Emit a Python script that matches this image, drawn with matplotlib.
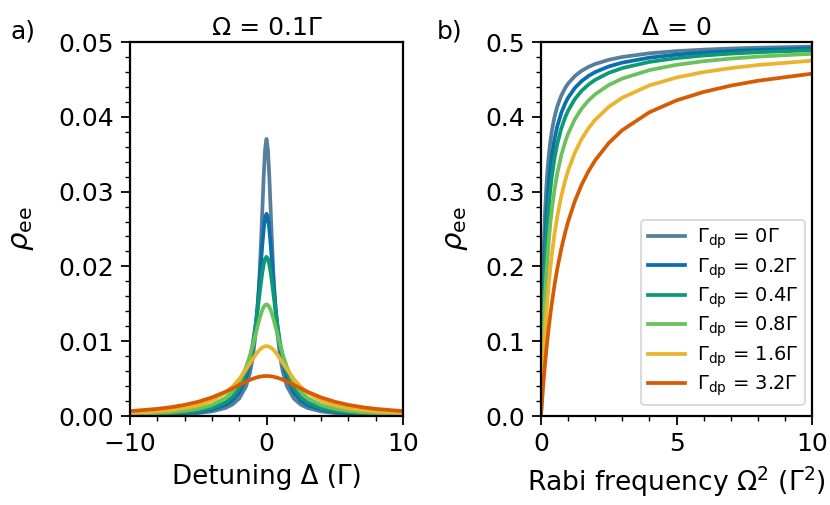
import numpy as np
import matplotlib
matplotlib.use("Agg")
import matplotlib.pyplot as plt
from matplotlib.ticker import AutoMinorLocator

plt.rcParams['font.family'] = ['DejaVu Sans']
plt.rcParams['mathtext.fontset'] = 'dejavusans'

# Dephasing rates (units of Gamma)
dephasing = ["0", "0.2", "0.4", "0.8", "1.6", "3.2"]
colors = ["#557f9a", "#0a6fae", "#0d9a73", "#6cc15f", "#e9b42e", "#d55c05"]

# Panel a: detuning (non-negative half; curves are symmetric)
detuning_half = [0, 0.1, 0.2, 0.3, 0.4, 0.5, 0.6, 0.7, 0.8, 1.0, 1.2, 1.5, 2, 2.5, 3, 4, 5, 6, 7, 8, 10]
rho_a_0 = [0.037037, 0.035714, 0.032258, 0.027778, 0.023256, 0.019231, 0.015873, 0.013158, 0.010989,
           0.007874, 0.005848, 0.003968, 0.002342, 0.001534, 0.001079, 0.000615, 0.000396, 0.000276,
           0.000203, 0.000156, 0.0000997]
rho_a_02 = [0.027027, 0.026515, 0.025090, 0.023026, 0.020649, 0.018229, 0.015945, 0.013889, 0.012090,
            0.009223, 0.007150, 0.005058, 0.003099, 0.002069, 0.001471, 0.000848, 0.000549, 0.000383,
            0.000283, 0.000217, 0.000139]
rho_a_04 = [0.021277, 0.021028, 0.020316, 0.019231, 0.017893, 0.016423, 0.014925, 0.013473, 0.012113,
            0.009751, 0.007874, 0.005814, 0.003714, 0.002537, 0.001828, 0.001069, 0.000696, 0.000489,
            0.000361, 0.000278, 0.000178]
rho_a_08 = [0.014925, 0.014840, 0.014590, 0.014192, 0.013670, 0.013052, 0.012369, 0.011649, 0.010915,
            0.009482, 0.008171, 0.006513, 0.004528, 0.003253, 0.002420, 0.001465, 0.000972, 0.000689,
            0.000512, 0.000395, 0.000256]
rho_a_16 = [0.009346, 0.009325, 0.009263, 0.009162, 0.009024, 0.008853, 0.008653, 0.008427, 0.008181,
            0.007645, 0.007078, 0.006228, 0.004945, 0.003909, 0.003113, 0.002049, 0.001424, 0.001037,
            0.000785, 0.000613, 0.000402]
rho_a_32 = [0.005348, 0.005344, 0.005332, 0.005313, 0.005286, 0.005253, 0.005212, 0.005165, 0.005111,
            0.004987, 0.004844, 0.004600, 0.004148, 0.003684, 0.003240, 0.002480, 0.001905, 0.001485,
            0.001178, 0.000951, 0.000650]

# Panel b: Rabi frequency squared
rabi_sq = [0, 0.01, 0.02, 0.05, 0.1, 0.15, 0.2, 0.25, 0.3, 0.35, 0.4, 0.5, 0.6, 0.75, 0.9, 1,
           1.25, 1.5, 1.75, 2, 2.5, 3, 4, 5, 6, 7, 8, 10]
rho_b_0 = [0, 0.037037, 0.068966, 0.142857, 0.222222, 0.272727, 0.307692, 0.333333, 0.352941, 0.368421,
           0.380952, 0.4, 0.413793, 0.428571, 0.439024, 0.444444, 0.454545, 0.461538, 0.466667, 0.470588,
           0.476190, 0.48, 0.484848, 0.487805, 0.489796, 0.491228, 0.492308, 0.493827]
rho_b_02 = [0, 0.027027, 0.051282, 0.111111, 0.181818, 0.230769, 0.266667, 0.294118, 0.315789, 0.333333,
            0.347826, 0.370370, 0.387097, 0.405405, 0.418605, 0.425532, 0.438596, 0.447761, 0.454545,
            0.459770, 0.467290, 0.472441, 0.479042, 0.483092, 0.485830, 0.487805, 0.489297, 0.491400]
rho_b_04 = [0, 0.021277, 0.040816, 0.090909, 0.153846, 0.2, 0.235294, 0.263158, 0.285714, 0.304348,
            0.32, 0.344828, 0.363636, 0.384615, 0.4, 0.408163, 0.423729, 0.434783, 0.443038, 0.449438,
            0.458716, 0.465116, 0.473373, 0.478469, 0.481928, 0.484429, 0.486322, 0.488998]
rho_b_08 = [0, 0.014925, 0.028986, 0.066667, 0.117647, 0.157895, 0.190476, 0.217391, 0.24, 0.259259,
            0.275862, 0.303030, 0.324324, 0.348837, 0.367347, 0.377358, 0.396825, 0.410959, 0.421687,
            0.430108, 0.442478, 0.451128, 0.462428, 0.469484, 0.474308, 0.477816, 0.480480, 0.484262]
rho_b_16 = [0, 0.009346, 0.018349, 0.043478, 0.08, 0.111111, 0.137931, 0.161290, 0.181818, 0.2,
            0.216216, 0.243902, 0.266667, 0.294118, 0.315789, 0.327869, 0.352113, 0.370370, 0.384615,
            0.396040, 0.413223, 0.425532, 0.441989, 0.452489, 0.459770, 0.465116, 0.469208, 0.475059]
rho_b_32 = [0, 0.005348, 0.010582, 0.025641, 0.048780, 0.069767, 0.088889, 0.106383, 0.122449, 0.137255,
            0.150943, 0.175439, 0.196721, 0.223881, 0.246575, 0.259740, 0.287356, 0.309278, 0.327103,
            0.341880, 0.364964, 0.382166, 0.406091, 0.421941, 0.433213, 0.441640, 0.448179, 0.457666]

rho_a = [rho_a_0, rho_a_02, rho_a_04, rho_a_08, rho_a_16, rho_a_32]
rho_b = [rho_b_0, rho_b_02, rho_b_04, rho_b_08, rho_b_16, rho_b_32]

fig = plt.figure(figsize=(8.3, 5.05), dpi=100)
ax1 = fig.add_axes([130 / 830, 1 - 416 / 505, 273 / 830, 374 / 505])
ax2 = fig.add_axes([541 / 830, 1 - 416 / 505, 271 / 830, 374 / 505])

dh = np.array(detuning_half)
det_full = np.concatenate([-dh[:0:-1], dh])
for vals, c in zip(rho_a, colors):
    v = np.array(vals)
    full = np.concatenate([v[:0:-1], v])
    ax1.plot(det_full, full, color=c, lw=2.7, solid_joinstyle='round')

for vals, c, lab in zip(rho_b, colors, dephasing):
    ax2.plot(rabi_sq, vals, color=c, lw=2.7, solid_joinstyle='round',
             label=r"$\Gamma_{\rm dp}$ = " + lab + "Γ")

fs = 18
ax1.set_xlim(-10, 10)
ax1.set_ylim(0, 0.05)
ax1.set_xticks([-10, 0, 10])
ax1.set_yticks([0, 0.01, 0.02, 0.03, 0.04, 0.05])
ax1.set_yticklabels(["0.00", "0.01", "0.02", "0.03", "0.04", "0.05"])
ax1.set_xlabel("Detuning Δ (Γ)", fontsize=18.8, labelpad=6)
ax1.set_ylabel(r"$\rho_{\rm ee}$", fontsize=fs + 3, labelpad=16)
ax1.set_title("Ω = 0.1Γ", fontsize=fs, pad=5)

ax2.set_xlim(0, 10)
ax2.set_ylim(0, 0.5)
ax2.set_xticks([0, 5, 10])
ax2.set_yticks([0, 0.1, 0.2, 0.3, 0.4, 0.5])
ax2.set_xlabel(r"Rabi frequency Ω$^2$ (Γ$^2$)", fontsize=19.1, labelpad=6)
ax2.set_ylabel(r"$\rho_{\rm ee}$", fontsize=fs + 3, labelpad=11)
ax2.set_title("Δ = 0", fontsize=fs, pad=5)
leg = ax2.legend(loc='lower right', fontsize=14, framealpha=1, handlelength=1.9,
                 borderpad=0.36, labelspacing=0.25, handletextpad=0.6,
                 borderaxespad=0, bbox_to_anchor=(1 - 7 / 271, 11 / 374))
leg.get_frame().set_edgecolor('#d8d8d8')
leg.get_frame().set_linewidth(1.3)

for ax in (ax1, ax2):
    ax.xaxis.set_minor_locator(AutoMinorLocator(5))
    ax.yaxis.set_minor_locator(AutoMinorLocator(5))
    ax.tick_params(which='major', labelsize=fs, length=6.5, width=1.3, direction='out', pad=5)
    ax.tick_params(which='minor', length=3.5, width=1.0, direction='out')
    for s in ax.spines.values():
        s.set_linewidth(1.6)

fig.text(10 / 830, 1 - 32 / 505, "a)", fontsize=fs, va='center')
fig.text(437 / 830, 1 - 32 / 505, "b)", fontsize=fs, va='center')

fig.savefig("out.png", dpi=100)
